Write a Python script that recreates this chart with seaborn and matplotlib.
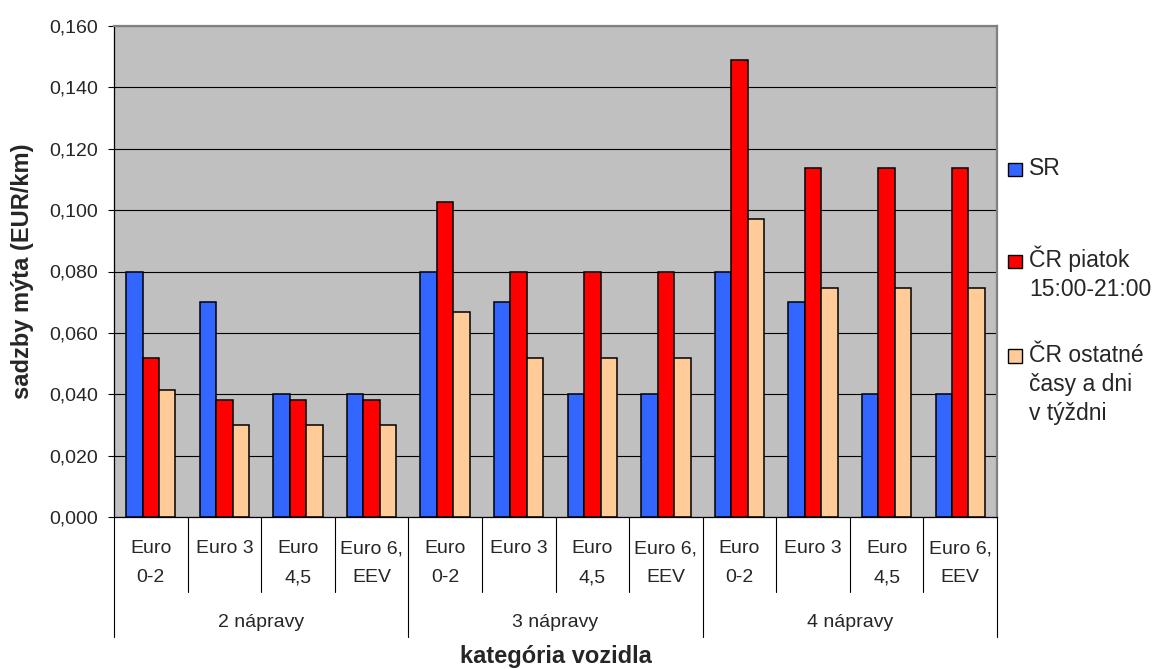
import numpy as np
import pandas as pd
import matplotlib
matplotlib.use("Agg")
import matplotlib.pyplot as plt
import seaborn as sns
from matplotlib.patches import Rectangle
from matplotlib.ticker import FuncFormatter
from matplotlib.transforms import blended_transform_factory

# --- data -------------------------------------------------------------
axle_groups = ["2 nápravy", "3 nápravy", "4 nápravy"]
emission_classes = ["Euro\n0-2", "Euro 3", "Euro\n4,5", "Euro 6,\nEEV"]
series_names = ["SR", "ČR piatok\n15:00-21:00", "ČR ostatné\nčasy a dni\nv týždni"]

sr_rates = [0.080, 0.070, 0.040, 0.040,
            0.080, 0.070, 0.040, 0.040,
            0.080, 0.070, 0.040, 0.040]
cr_friday_rates = [0.0517, 0.0383, 0.0383, 0.0383,
                   0.1026, 0.0799, 0.0799, 0.0799,
                   0.1487, 0.1138, 0.1138, 0.1138]
cr_other_rates = [0.0413, 0.0301, 0.0301, 0.0301,
                  0.0669, 0.0517, 0.0517, 0.0517,
                  0.0970, 0.0747, 0.0747, 0.0747]

y_ticks = [0.000, 0.020, 0.040, 0.060, 0.080, 0.100, 0.120, 0.140, 0.160]
y_title = "sadzby mýta (EUR/km)"
x_title = "kategória vozidla"

colors = ["#3366FF", "#FF0000", "#FFCC99"]

# --- long-format table --------------------------------------------------
keys = [f"{g}|{c}" for g in axle_groups for c in emission_classes]
rows = []
for name, vals in zip(series_names, [sr_rates, cr_friday_rates, cr_other_rates]):
    for k, v in zip(keys, vals):
        rows.append({"kategoria": k, "rad": name, "sadzba": v})
df = pd.DataFrame(rows)

# --- figure -------------------------------------------------------------
sns.set_style("white")
plt.rcParams["font.family"] = ["Liberation Sans", "DejaVu Sans"]

W, H = 1161, 669
fig = plt.figure(figsize=(W / 100, H / 100), dpi=100)
left_px, right_px, top_px, bottom_px = 114, 997, 25.7, 517.3
ax = fig.add_axes([left_px / W, 1 - bottom_px / H,
                   (right_px - left_px) / W, (bottom_px - top_px) / H])
ax.set_facecolor("#C0C0C0")

sns.barplot(data=df, x="kategoria", y="sadzba", hue="rad",
            order=keys, hue_order=series_names, palette=colors,
            saturation=1, width=0.67, edgecolor="black", linewidth=1.1,
            legend=False, ax=ax, zorder=3)

ax.set_xlim(-0.5, len(keys) - 0.5)
ax.set_ylim(y_ticks[0], y_ticks[-1])
ax.set_yticks(y_ticks)
ax.yaxis.set_major_formatter(FuncFormatter(lambda v, _: f"{v:.3f}".replace(".", ",")))
ax.yaxis.grid(True, color="black", linewidth=0.8, zorder=0)
ax.set_axisbelow(True)
ax.tick_params(axis="y", direction="out", length=4.5, width=0.8,
               color="black", labelsize=14, pad=7, left=True)
ax.tick_params(axis="x", length=0, labelbottom=False)

for side in ["left", "bottom"]:
    ax.spines[side].set_color("black")
    ax.spines[side].set_linewidth(0.9)
for side in ["top", "right"]:
    ax.spines[side].set_color("#808080")
    ax.spines[side].set_linewidth(1.6)
for s in ax.spines.values():
    s.set_zorder(4)

# --- two-level category axis -------------------------------------------
ax_h = bottom_px - top_px
def frac(ypix):
    return (bottom_px - ypix) / ax_h

trans = blended_transform_factory(ax.transData, ax.transAxes)
n_cls = len(emission_classes)
for i in range(len(keys) + 1):
    depth = 636.7 if i % n_cls == 0 else 591.7
    ax.plot([i - 0.5, i - 0.5], [0, frac(depth)], transform=trans,
            color="black", linewidth=0.8, clip_on=False)

for i, k in enumerate(keys):
    label = k.split("|")[1]
    for j, line in enumerate(label.split("\n")):
        ax.text(i, frac(553.3 + 29 * j), line, transform=trans,
                ha="center", va="baseline", fontsize=14)

for gi, g in enumerate(axle_groups):
    xc = gi * n_cls + (n_cls - 1) / 2
    ax.text(xc, frac(626.7), g, transform=trans,
            ha="center", va="baseline", fontsize=14)

ax.set_xlabel(x_title, fontsize=17, fontweight="bold", va="baseline")
ax.xaxis.set_label_coords(0.5, frac(662.5))
ax.set_ylabel(y_title, fontsize=17, fontweight="bold", va="center")
ax.yaxis.set_label_coords((23 - left_px) / (right_px - left_px), 0.5)

# --- legend -------------------------------------------------------------
first_baselines = [175, 267, 361.7]
for name, col, base in zip(series_names, colors, first_baselines):
    fig.patches.append(Rectangle((1008 / W, 1 - (base + 1) / H), 13.5 / W, 13.5 / H,
                                 transform=fig.transFigure, facecolor=col,
                                 edgecolor="black", linewidth=1.0))
    for j, line in enumerate(name.split("\n")):
        fig.text(1029 / W, 1 - (base + 29.3 * j) / H, line,
                 ha="left", va="baseline", fontsize=16.5)

fig.savefig("out.png", dpi=100, facecolor="white")
